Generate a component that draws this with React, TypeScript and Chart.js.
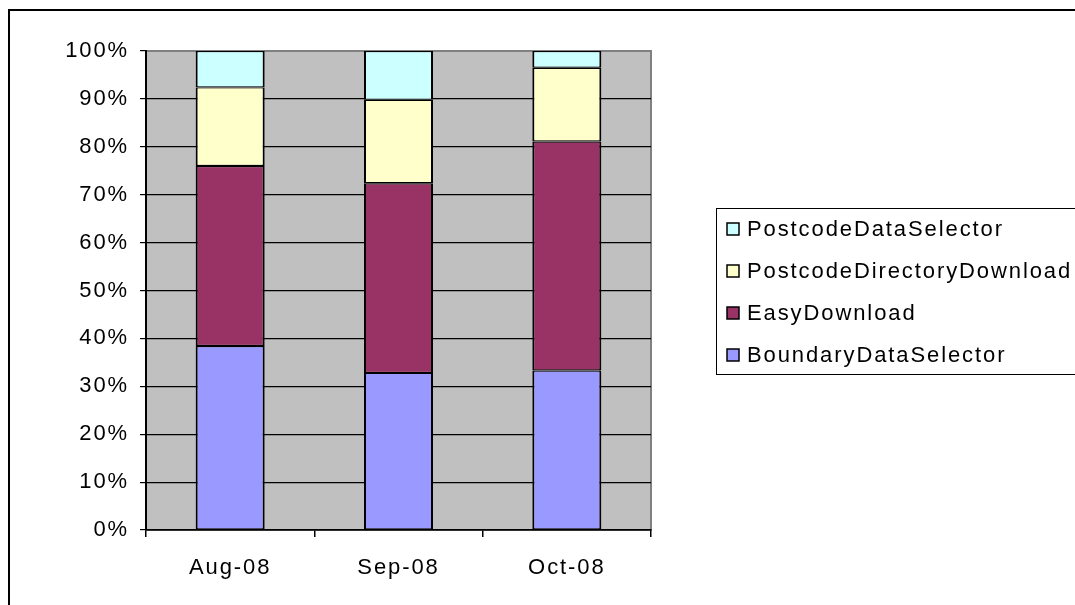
import React, { useEffect, useRef } from "react";
import { Chart, registerables } from "chart.js";

Chart.register(...registerables);

const categories = ["Aug-08", "Sep-08", "Oct-08"];
const boundaryDataSelector = [38.4, 32.8, 33.3];
const easyDownload = [37.6, 39.6, 47.8];
const postcodeDirectoryDownload = [16.4, 17.4, 15.4];
const postcodeDataSelector = [7.6, 10.2, 3.5];
const seriesNames = ["BoundaryDataSelector", "EasyDownload", "PostcodeDirectoryDownload", "PostcodeDataSelector"];
const seriesColors = ["#9999FF", "#993366", "#FFFFCC", "#CCFFFF"];
const yTicks = [0, 10, 20, 30, 40, 50, 60, 70, 80, 90, 100];

const FONT = "'Liberation Sans', Arial, sans-serif";
const SPACING = "1.9px";
const FS = 22;

export default function App() {
  const ref = useRef<HTMLCanvasElement | null>(null);
  useEffect(() => {
    document.documentElement.style.overflow = "hidden";
    document.body.style.overflow = "hidden";
    const canvas = ref.current!;
    const spacingPlugin = {
      id: "spacing",
      beforeUpdate(chart: any) { chart.ctx.letterSpacing = SPACING; },
      beforeLayout(chart: any) { chart.ctx.letterSpacing = SPACING; },
      beforeDraw(chart: any) { chart.ctx.letterSpacing = SPACING; },
    };
    const bgPlugin = {
      id: "bg",
      beforeDraw(chart: any) {
        const { ctx, chartArea: a } = chart;
        ctx.save();
        ctx.fillStyle = "#fff";
        ctx.fillRect(0, 0, chart.width, chart.height);
        ctx.strokeStyle = "#000";
        ctx.lineWidth = 2;
        ctx.strokeRect(1, 2, chart.width + 20, chart.height + 20);
        ctx.fillStyle = "#C0C0C0";
        ctx.fillRect(a.left, a.top, a.right - a.left, a.bottom - a.top);
        ctx.strokeStyle = "#808080";
        ctx.lineWidth = 2;
        ctx.strokeRect(a.left, a.top, a.right - a.left, a.bottom - a.top);
        ctx.restore();
      },
    };
    const legendPlugin = {
      id: "customLegend",
      afterDraw(chart: any) {
        const ctx = chart.ctx;
        ctx.save();
        ctx.letterSpacing = SPACING;
        ctx.strokeStyle = "#000";
        ctx.lineWidth = 1;
        ctx.strokeRect(708.5, 200.5, 500, 166);
        ctx.font = `${FS}px ${FONT}`;
        ctx.textBaseline = "middle";
        ctx.textAlign = "left";
        const order = [3, 2, 1, 0];
        order.forEach((si, i) => {
          const cy = 221 + i * 42;
          ctx.fillStyle = seriesColors[si];
          ctx.fillRect(719, cy - 6, 12, 12);
          ctx.strokeStyle = "#000";
          ctx.lineWidth = 1.5;
          ctx.strokeRect(719, cy - 6, 12, 12);
          ctx.fillStyle = "#000";
          ctx.fillText(seriesNames[si], 739, cy + 1);
        });
        ctx.restore();
      },
    };
    const values = [boundaryDataSelector, easyDownload, postcodeDirectoryDownload, postcodeDataSelector];
    const chart = new Chart(canvas, {
      type: "bar",
      data: {
        labels: categories,
        datasets: values.map((v, i) => ({
          label: seriesNames[i],
          data: v,
          backgroundColor: seriesColors[i],
          borderColor: "#000",
          borderWidth: { left: 2, right: 2, top: 1.2, bottom: 1.2 },
          borderSkipped: false,
          barPercentage: 0.41,
          categoryPercentage: 1,
        })),
      },
      options: {
        responsive: false,
        animation: false,
        layout: { padding: { left: 0, top: 43, right: 424, bottom: 0 } },
        plugins: { legend: { display: false }, tooltip: { enabled: false } },
        scales: {
          x: {
            stacked: true,
            afterFit(s: any) { s.height = 75; },
            grid: { display: true, drawOnChartArea: false, drawTicks: true, tickLength: 7, offset: true, color: "#000", lineWidth: 1.5 },
            border: { display: true, color: "#000", width: 1.5 },
            ticks: { color: "#000", font: { family: FONT, size: FS }, padding: 18, maxRotation: 0 },
          },
          y: {
            stacked: true,
            min: 0,
            max: 100,
            afterFit(s: any) { s.width = 138; },
            afterBuildTicks(s: any) { s.ticks = yTicks.map((v) => ({ value: v })); },
            grid: {
              color: (c: any) => (c.tick && c.tick.value === 100 ? "#808080" : "#000"),
              lineWidth: 1.2,
              tickLength: 6,
              tickColor: "#000",
            },
            border: { display: true, color: "#000", width: 2 },
            ticks: { color: "#000", font: { family: FONT, size: FS }, padding: 11, callback: (v: any) => v + "%" },
          },
        },
      },
      plugins: [spacingPlugin, bgPlugin, legendPlugin],
    } as any);
    return () => chart.destroy();
  }, []);
  return (
    <div style={{ position: "fixed", left: 8, top: 8, width: 1067, height: 597 }}>
      <canvas ref={ref} width={1067} height={597} style={{ display: "block", width: 1067, height: 597 }} />
    </div>
  );
}
